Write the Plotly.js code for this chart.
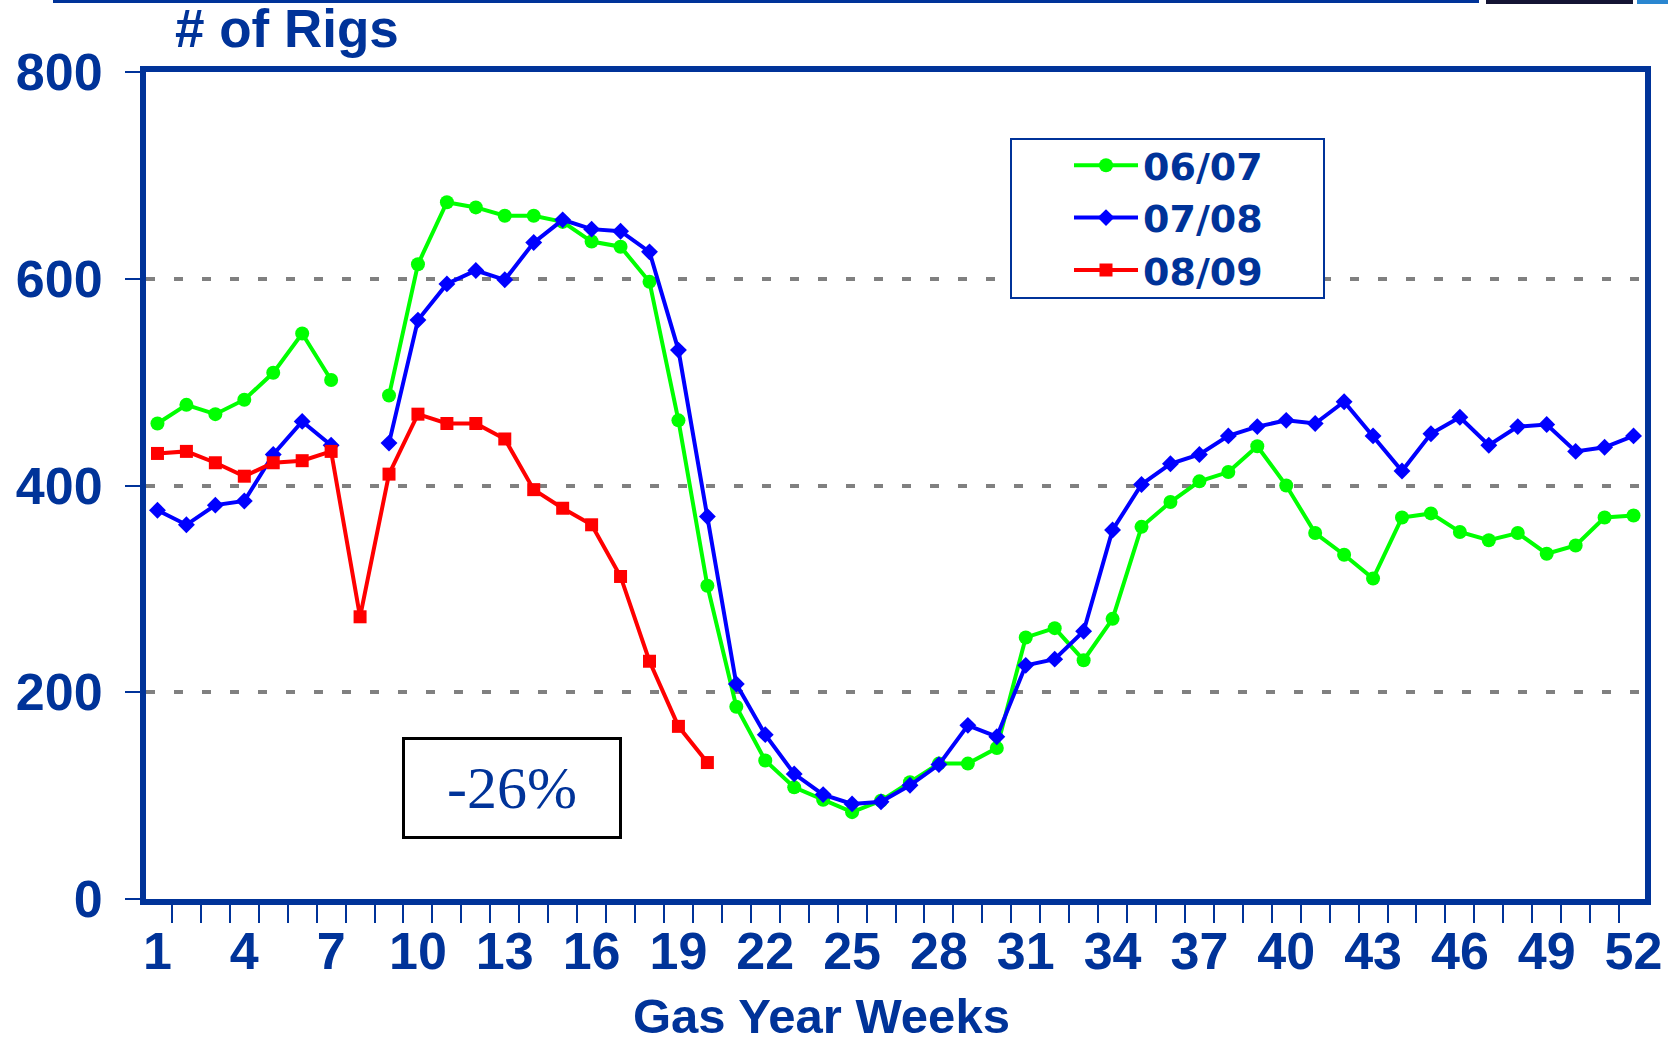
<!DOCTYPE html>
<html>
<head>
<meta charset="utf-8">
<script src="https://cdn.plot.ly/plotly-3.0.1.min.js"></script>
<style>
html,body{margin:0;padding:0;background:#fff;}
#chart{width:1668px;height:1043px;}
</style>
</head>
<body>
<div id="chart"></div>
<script>
// ---- data ----
const weeks = Array.from({length: 52}, (_, i) => i + 1);
const tickLabels = ["1","4","7","10","13","16","19","22","25","28","31","34","37","40","43","46","49","52"];
const tickWeeks = [1,4,7,10,13,16,19,22,25,28,31,34,37,40,43,46,49,52];
const yTicks = [0,200,400,600,800];
const seriesNames = ["06/07","07/08","08/09"];
const rigs0607 = [460,478,469,483,509,547,502,null,487,614,674,669,661,661,655,636,631,597,463,303,186,134,108,96,84,95,113,131,131,146,253,262,231,271,360,384,404,413,438,400,354,333,310,369,373,355,347,354,334,342,369,371];
const rigs0708 = [376,362,381,385,430,462,439,null,441,560,595,608,599,635,657,648,646,626,531,370,208,159,121,101,92,94,110,130,168,157,226,232,259,357,401,421,430,448,457,463,460,481,448,414,450,466,439,457,459,433,437,448];
const rigs0809 = [431,433,422,409,422,424,433,273,411,469,460,460,445,396,378,362,312,230,167,132,null,null,null,null,null,null,null,null,null,null,null,null,null,null,null,null,null,null,null,null,null,null,null,null,null,null,null,null,null,null,null,null];
const changeLabel = "-26%";

const NAVY = '#003399';
const tickFont = {family: 'Liberation Sans, Arial, sans-serif', size: 52, color: NAVY, weight: 'bold'};

const traces = [
  {x: weeks, y: rigs0607, name: seriesNames[0], type: 'scatter', mode: 'lines+markers',
   line: {color: '#00FF00', width: 4}, marker: {symbol: 'circle', size: 14, color: '#00FF00'}},
  {x: weeks, y: rigs0708, name: seriesNames[1], type: 'scatter', mode: 'lines+markers',
   line: {color: '#0000FF', width: 4}, marker: {symbol: 'diamond', size: 13, color: '#0000FF'}},
  {x: weeks, y: rigs0809, name: seriesNames[2], type: 'scatter', mode: 'lines+markers',
   line: {color: '#FF0000', width: 4}, marker: {symbol: 'square', size: 13, color: '#FF0000'}}
];

// plot area chosen so the axis frame sits where the reference draws it
const L = 146, R = 23, T = 72, B = 144;
const PW = 1668 - L - R, PH = 1043 - T - B;
const px = v => (v - L) / PW;      // page x (px) -> paper x
const py = v => (1043 - B - v) / PH; // page y (px) -> paper y

const layout = {
  width: 1668, height: 1043,
  margin: {l: L, r: R, t: T, b: B},
  paper_bgcolor: '#fff', plot_bgcolor: '#fff',
  showlegend: true,
  legend: {
    x: px(1011), y: py(134), xanchor: 'left', yanchor: 'top',
    borderwidth: 0, bgcolor: 'rgba(0,0,0,0)',
    font: {family: 'DejaVu Sans, Verdana, sans-serif', size: 38, color: NAVY, weight: 'bold'},
    itemwidth: 64, indentation: 58
  },
  xaxis: {
    range: [0.6037, 52.396], autorange: false,
    tickmode: 'array', tickvals: tickWeeks, ticktext: tickLabels,
    ticks: '', ticklabelstandoff: 2,
    tickfont: tickFont,
    minor: {tickmode: 'linear', tick0: 0.5, dtick: 1, ticks: 'outside', ticklen: 18, tickwidth: 2, tickcolor: NAVY, showgrid: false},
    showline: true, linecolor: NAVY, linewidth: 6, mirror: true,
    showgrid: false, zeroline: false, fixedrange: true
  },
  yaxis: {
    range: [0, 800], autorange: false,
    tickmode: 'array', tickvals: yTicks,
    ticks: 'outside', ticklen: 15, tickwidth: 2, tickcolor: NAVY,
    ticklabelstandoff: 12,
    tickfont: tickFont,
    showline: true, linecolor: NAVY, linewidth: 6, mirror: true,
    showgrid: true, gridcolor: '#808080', gridwidth: 4, griddash: '9px,19px',
    zeroline: false, fixedrange: true
  },
  annotations: [
    {text: '# of Rigs', xref: 'paper', yref: 'paper', x: px(173), y: py(29),
     xanchor: 'left', yanchor: 'middle', showarrow: false,
     font: {family: 'Liberation Sans, Arial, sans-serif', size: 53, color: NAVY, weight: 'bold'}},
    {text: 'Gas Year Weeks', xref: 'paper', yref: 'paper', x: px(821), y: py(1016),
     xanchor: 'center', yanchor: 'middle', showarrow: false,
     font: {family: 'Liberation Sans, Arial, sans-serif', size: 49, color: NAVY, weight: 'bold'}},
    {text: changeLabel, xref: 'x', yref: 'y', x: 13.25, y: 107,
     xanchor: 'center', yanchor: 'middle', showarrow: false,
     width: 212, height: 94, bordercolor: '#000', borderwidth: 3, bgcolor: '#fff',
     font: {family: 'Liberation Serif, Times New Roman, serif', size: 60, color: NAVY}}
  ],
  shapes: [
    // legend frame
    {type: 'rect', xref: 'paper', yref: 'paper', x0: px(1011), x1: px(1324), y0: py(298), y1: py(139),
     fillcolor: '#fff', line: {color: NAVY, width: 2}, layer: 'above'},
    // slide decorations along the top edge
    {type: 'rect', xref: 'paper', yref: 'paper', x0: px(53), x1: px(1479),
     y0: py(0), y1: py(3), fillcolor: NAVY, line: {width: 0}, layer: 'above'},
    {type: 'rect', xref: 'paper', yref: 'paper', x0: px(1486), x1: px(1633),
     y0: py(0), y1: py(4), fillcolor: '#141433', line: {width: 0}, layer: 'above'},
    {type: 'rect', xref: 'paper', yref: 'paper', x0: px(1637), x1: px(1668),
     y0: py(0), y1: py(4), fillcolor: '#2a86d0', line: {width: 0}, layer: 'above'}
  ]
};

Plotly.newPlot('chart', traces, layout, {displayModeBar: false, staticPlot: true});
</script>
</body>
</html>
